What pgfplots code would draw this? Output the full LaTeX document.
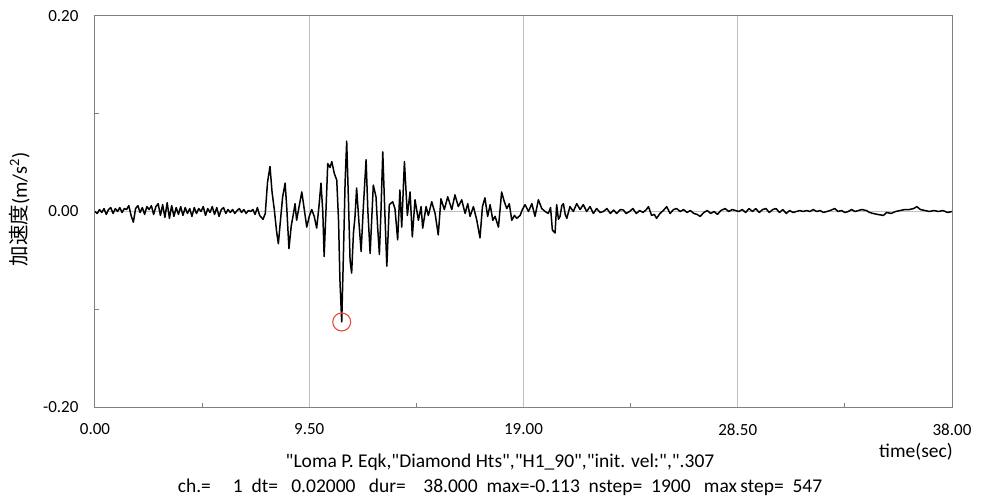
\documentclass[border=0pt]{standalone}
\usepackage{pgfplots}
\pgfplotsset{compat=1.18}
\usetikzlibrary{calc}
\usepackage{fontspec}
\setmainfont{Carlito}[Ligatures=TeXOff]
\newfontfamily\cjk{Noto Sans CJK JP}
\definecolor{circred}{RGB}{232,72,60}
\newcommand\q{\symbol{34}}
\begin{document}
\begin{tikzpicture}[font=\fontsize{17}{20}\selectfont]
\begin{axis}[
  scale only axis, width=857pt, height=391pt,
  clip mode=individual,
  xmin=0, xmax=38, ymin=-0.2, ymax=0.2,
  xtick={0,9.5,19,28.5,38}, xticklabels={0.00,9.50,19.00,28.50,38.00},
  ytick={-0.2,0,0.2}, yticklabels={-0.20,0.00,0.20},
  minor xtick={4.75,14.25,23.75,33.25}, minor ytick={-0.1,0.1},
  xmajorgrids, ymajorgrids,
  major grid style={draw=black!25, line width=1pt},
  axis line style={draw=black!50, line width=1pt},
  tick align=inside, major tick length=0pt, minor tick length=4pt,
  minor tick style={draw=black!50, line width=0.8pt},
  xtick pos=lower, ytick pos=left,
  xticklabel style={yshift=-13pt},
  yticklabel style={xshift=-13pt},
]
\addplot[black, line width=1.5pt, line join=round] coordinates {
(0.0,0.000)(0.1,-0.002)(0.2,0.002)(0.3,-0.001)(0.4,0.003)(0.5,-0.003)(0.6,0.002)(0.7,0.004)(0.8,-0.002)(0.9,0.003)
(1.0,0.000)(1.1,0.004)(1.2,-0.001)(1.3,0.003)(1.4,0.002)(1.5,0.006)(1.6,-0.004)(1.7,-0.011)(1.8,0.003)(1.9,0.006)
(2.0,-0.001)(2.1,0.004)(2.2,-0.003)(2.3,0.005)(2.4,0.002)(2.5,0.006)(2.6,-0.003)(2.7,0.005)(2.8,0.008)(2.9,-0.004)
(3.0,0.007)(3.1,-0.006)(3.2,0.009)(3.3,-0.007)(3.4,0.006)(3.5,-0.005)(3.6,0.004)(3.7,-0.003)(3.8,0.005)(3.9,-0.004)
(4.0,0.004)(4.1,-0.002)(4.2,0.003)(4.3,-0.005)(4.4,0.004)(4.5,-0.002)(4.6,0.003)(4.7,0.000)(4.8,0.005)(4.9,-0.004)
(5.0,0.003)(5.1,-0.001)(5.2,0.005)(5.3,-0.003)(5.4,0.004)(5.5,-0.005)(5.6,0.002)(5.7,0.004)(5.8,-0.002)(5.9,0.002)
(6.0,-0.001)(6.1,0.002)(6.2,-0.002)(6.3,0.001)(6.4,0.003)(6.5,-0.001)(6.6,0.002)(6.7,-0.002)(6.8,0.001)(6.9,0.000)
(7.0,0.002)(7.1,-0.003)(7.2,0.004)(7.3,-0.004)(7.45,-0.008)(7.55,-0.002)(7.65,0.030)(7.76,0.046)(7.85,0.020)(7.95,0.002)
(8.05,-0.020)(8.13,-0.033)(8.22,-0.010)(8.32,0.015)(8.43,0.029)(8.50,0.005)(8.60,-0.038)(8.70,-0.015)(8.80,-0.002)(8.87,0.008)
(8.94,-0.009)(9.05,0.005)(9.17,0.020)(9.28,0.002)(9.39,-0.016)(9.50,-0.005)(9.61,0.002)(9.72,-0.005)(9.83,-0.017)(9.93,0.005)
(10.02,0.029)(10.10,0.000)(10.16,-0.046)(10.24,0.000)(10.32,0.049)(10.42,0.045)(10.50,0.051)(10.61,0.039)(10.72,0.032)(10.80,-0.010)
(10.86,-0.070)(10.94,-0.113)(11.02,-0.040)(11.09,0.030)(11.16,0.072)(11.24,0.010)(11.31,-0.050)(11.38,-0.063)(11.46,-0.022)(11.53,-0.005)
(11.60,0.024)(11.70,-0.010)(11.80,-0.041)(11.90,0.005)(12.02,0.053)(12.10,0.000)(12.20,-0.043)(12.34,0.027)(12.46,0.015)(12.53,-0.015)
(12.61,-0.044)(12.68,0.000)(12.76,0.061)(12.85,0.000)(12.94,-0.056)(13.05,0.007)(13.20,0.010)(13.30,0.003)(13.42,-0.029)(13.52,0.022)
(13.60,-0.016)(13.72,0.051)(13.85,-0.004)(13.97,0.020)(14.07,-0.026)(14.19,0.012)(14.34,-0.009)(14.46,0.005)(14.53,-0.017)(14.68,0.005)
(14.78,-0.004)(14.93,0.010)(15.08,-0.002)(15.22,-0.024)(15.34,0.013)(15.49,0.002)(15.64,0.015)(15.82,0.002)(15.96,0.017)(16.11,0.005)
(16.26,0.012)(16.41,-0.002)(16.53,0.008)(16.63,-0.005)(16.78,0.005)(16.93,-0.009)(17.07,-0.027)(17.18,0.005)(17.29,0.014)(17.41,-0.005)
(17.52,0.007)(17.64,-0.009)(17.74,-0.005)(17.89,-0.016)(18.03,0.020)(18.15,0.010)(18.26,0.003)(18.37,0.008)(18.48,-0.009)(18.60,-0.004)
(18.70,-0.007)(18.85,-0.004)(18.95,0.002)(19.07,0.007)(19.22,0.000)(19.37,0.008)(19.51,-0.005)(19.66,0.012)(19.81,0.003)(19.96,0.000)
(20.10,-0.002)(20.20,0.004)(20.28,-0.019)(20.40,-0.022)(20.47,0.007)(20.55,-0.008)(20.62,-0.005)(20.70,0.006)(20.77,0.008)(20.85,-0.003)
(20.92,-0.007)(21.06,0.005)(21.21,0.000)(21.36,0.008)(21.51,0.002)(21.65,0.007)(21.80,0.000)(21.95,0.005)(22.10,-0.002)(22.24,0.003)
(22.40,-0.001)(22.54,0.000)(22.7,0.003)(22.85,-0.002)(23.0,0.0015)(23.13,-0.002)(23.3,0.002)(23.43,0.0015)(23.55,-0.002)(23.7,0.000)
(23.85,0.003)(24.0,-0.002)(24.15,0.001)(24.3,-0.001)(24.45,0.002)(24.54,0.005)(24.68,-0.004)(24.8,-0.003)(24.9,-0.007)(25.05,-0.002)
(25.2,0.001)(25.35,0.005)(25.5,-0.002)(25.65,0.002)(25.79,0.003)(25.95,0.000)(26.1,0.002)(26.25,-0.001)(26.4,0.001)(26.55,-0.002)
(26.7,-0.003)(26.83,-0.005)(27.0,-0.001)(27.15,0.001)(27.3,-0.002)(27.45,0.000)(27.6,-0.003)(27.75,0.001)(27.94,0.003)(28.1,0.000)
(28.25,0.002)(28.4,0.001)(28.55,0.000)(28.7,0.002)(28.85,-0.001)(29.0,0.003)(29.15,0.000)(29.3,0.003)(29.45,-0.001)(29.6,0.002)
(29.75,0.003)(29.9,-0.001)(30.05,0.002)(30.2,0.003)(30.35,-0.001)(30.5,0.002)(30.65,-0.002)(30.8,0.001)(30.95,-0.001)(31.1,0.000)
(31.25,0.001)(31.4,0.000)(31.55,0.001)(31.7,0.000)(31.85,0.002)(32.0,0.000)(32.15,0.001)(32.3,-0.001)(32.45,0.000)(32.6,0.001)
(32.8,0.003)(32.95,0.000)(33.1,0.001)(33.25,-0.001)(33.4,0.000)(33.55,0.002)(33.7,0.000)(33.85,0.001)(34.0,0.002)(34.2,0.001)
(34.35,-0.001)(34.5,-0.002)(34.7,-0.003)(34.96,-0.004)(35.1,-0.001)(35.3,-0.002)(35.5,0.000)(35.7,0.001)(35.9,0.002)(36.1,0.002)
(36.3,0.003)(36.44,0.005)(36.6,0.002)(36.8,0.001)(37.0,0.000)(37.2,0.001)(37.4,0.000)(37.6,0.001)(37.8,-0.001)(38.0,0.000)
};
\addplot[only marks, mark=o, mark size=9pt, mark options={draw=circred, line width=1.1pt}] coordinates {(10.94,-0.113)};
\node[rotate=90, font=\fontsize{20.5}{24}\selectfont] at (axis description cs:-0.088,0.505) {{\cjk 加速度}(m/s\textsuperscript{2})};
\node[font=\fontsize{19.5}{23}\selectfont] at (axis description cs:0.958,-0.115) {time(sec)};
\node[font=\fontsize{19.5}{23}\selectfont] at (axis description cs:0.4726,-0.1407) {\q Loma P. Eqk,\q Diamond Hts\q,\q H1\_90\q,\q init. vel:\q,\q.307};
\node[font=\fontsize{19.5}{23}\selectfont] at (axis description cs:0.4726,-0.2046) {ch.=\ \ \ \ \ 1\ \ dt=\ \ \ 0.02000\ \ \ dur=\ \ \ \ 38.000\ \ max=-0.113\ \ nstep=\ \ 1900\ \ \ max\,step=\ \ 547};
\end{axis}
\pgfresetboundingbox
\path (current axis.south west) ++(-95pt,-96pt) rectangle ($(current axis.north east)+(35pt,16pt)$);
\end{tikzpicture}
\end{document}
